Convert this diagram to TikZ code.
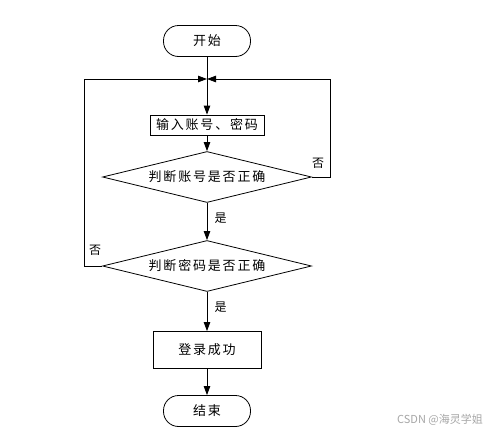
\documentclass[tikz,border=0pt]{standalone}
\usepackage{fontspec}
\setmainfont{Noto Sans CJK SC}
\newfontfamily\spacedcjk[LetterSpace=14]{Noto Sans CJK SC}
\usetikzlibrary{shapes.geometric,arrows.meta}
\begin{document}
\begin{tikzpicture}[x=1pt,y=-1pt,
  line width=0.8pt,
  arr/.style={-{Triangle[length=9pt,width=6.5pt]}},
  txt/.style={font=\spacedcjk\fontsize{13}{15}\selectfont},
  term/.style={draw,txt,rounded corners=15pt,minimum width=87pt,minimum height=31pt},
  proc/.style={draw,txt,minimum width=108pt,minimum height=37pt},
  dec/.style={draw,txt,diamond,aspect=4.2,inner sep=0pt,minimum width=209pt,minimum height=51pt},
  lbl/.style={font=\fontsize{12}{14}\selectfont}]
\useasboundingbox (0,0) rectangle (499,434);
\node[term] (start) at (207,41) {开始};
\coordinate (merge) at (207,79);
\node[draw,txt,minimum width=114pt,minimum height=20pt,inner sep=1pt] (input) at (207,125) {输入账号、密码};
\node[dec] (d1) at (207,177) {判断账号是否正确};
\node[dec] (d2) at (207,266) {判断密码是否正确};
\node[proc] (ok) at (207,350) {登录成功};
\node[term] (end) at (207,411) {结束};
\draw[arr] (start) -- (input);
\draw[arr] (input) -- (d1);
\draw[arr] (d1) -- node[lbl,right,pos=0.4,xshift=4pt] {是} (d2);
\draw[arr] (d2) -- node[lbl,right,pos=0.4,xshift=4pt] {是} (ok);
\draw[arr] (ok) -- (end);
\coordinate (rc1) at (330,177);
\coordinate (rc2) at (330,79);
\draw[arr] (d1.east) -- (rc1) -- (rc2) -- (merge);
\node[lbl] (no1) at (318,163) {否};
\coordinate (lc1) at (84,266);
\coordinate (lc2) at (84,79);
\draw[arr] (d2.west) -- (lc1) -- (lc2) -- (merge);
\node[lbl] (no2) at (95,250) {否};
\node[font=\fontsize{11}{13}\selectfont,text=black!35] (wm) at (440,420) {CSDN @海灵学姐};
\end{tikzpicture}
\end{document}
